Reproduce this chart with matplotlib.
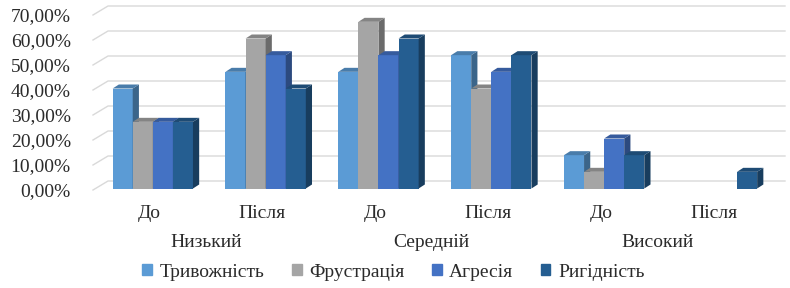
import matplotlib.pyplot as plt
from matplotlib.patches import Polygon, Patch
from matplotlib.colors import to_rgb

categories = ['До', 'Після', 'До', 'Після', 'До', 'Після']
groups = ['Низький', 'Середній', 'Високий']
series = ['Тривожність', 'Фрустрація', 'Агресія', 'Ригідність']
anxiety = [40.0, 46.67, 46.67, 53.33, 13.33, 0]
frustration = [26.67, 60.0, 66.67, 40.0, 6.67, 0]
aggression = [26.67, 53.33, 53.33, 46.67, 20.0, 0]
rigidity = [26.67, 40.0, 60.0, 53.33, 13.33, 6.67]
colors = ['#5B9BD5', '#A5A5A5', '#4472C4', '#255E91']
yticks = [0, 10, 20, 30, 40, 50, 60, 70]

plt.rcParams['font.family'] = ['Liberation Serif', 'DejaVu Serif']
txt = '#2b2b2b'
fs = 14

fig = plt.figure(figsize=(7.9, 2.88), dpi=100)
ax = fig.add_axes([93 / 790, 98 / 288, 677 / 790, 175 / 288])
ax.set_xlim(-0.5, 5.5)
ax.set_ylim(0, 70)
for s in ax.spines.values():
    s.set_visible(False)

# back wall gridlines with slanted left part
gx, gy = 0.133, 3.6
for v in yticks:
    ax.plot([-0.5, -0.5 + gx, 5.5 + gx], [v, v + gy, v + gy], color='#d9d9d9',
            lw=1.0, clip_on=False, zorder=0)

ax.set_yticks(yticks)
ax.set_yticklabels([f'{v},00%' for v in yticks], fontsize=fs, color=txt)
ax.tick_params(axis='y', length=0, pad=16)
ax.set_xticks(range(len(categories)))
ax.set_xticklabels(categories, fontsize=fs, color=txt)
ax.tick_params(axis='x', length=0, pad=11)

for i, g in enumerate(groups):
    ax.text(2 * i + 0.5, -0.30, g, transform=ax.get_xaxis_transform(),
            ha='center', va='center', fontsize=fs, color=txt)

def shade(c, f):
    r, g, b = to_rgb(c)
    return (r * f, g * f, b * f)

w = 0.178
dx, dy = 0.055, 1.6
ox, oy = 0.03, 0.6
values = [anxiety, frustration, aggression, rigidity]
z = 2.0
for ci in range(len(categories)):
    for si, vals in enumerate(values):
        h = vals[ci]
        if h <= 0:
            continue
        x0 = ci - 2 * w + si * w + ox
        x1 = x0 + w
        c = colors[si]
        ax.bar(x0, h, width=w, bottom=oy, align='edge', color=c, zorder=z)
        side = Polygon([(x1, oy), (x1 + dx, oy + dy), (x1 + dx, oy + h + dy), (x1, oy + h)],
                       closed=True, color=shade(c, 0.65), zorder=z, clip_on=False, lw=0)
        top = Polygon([(x0, oy + h), (x0 + dx, oy + h + dy), (x1 + dx, oy + h + dy), (x1, oy + h)],
                      closed=True, color=shade(c, 0.8), zorder=z, clip_on=False, lw=0)
        ax.add_patch(side)
        ax.add_patch(top)
        z += 0.01

handles = [Patch(color=c, label=s) for c, s in zip(colors, series)]
fig.legend(handles=handles, loc='center', bbox_to_anchor=(0.498, 0.055), ncol=4,
           frameon=False, prop={'family': 'Liberation Serif', 'size': fs},
           handlelength=0.5, handleheight=0.5, handletextpad=0.4,
           columnspacing=1.4, labelcolor=txt)

fig.savefig('out.png', dpi=100)
